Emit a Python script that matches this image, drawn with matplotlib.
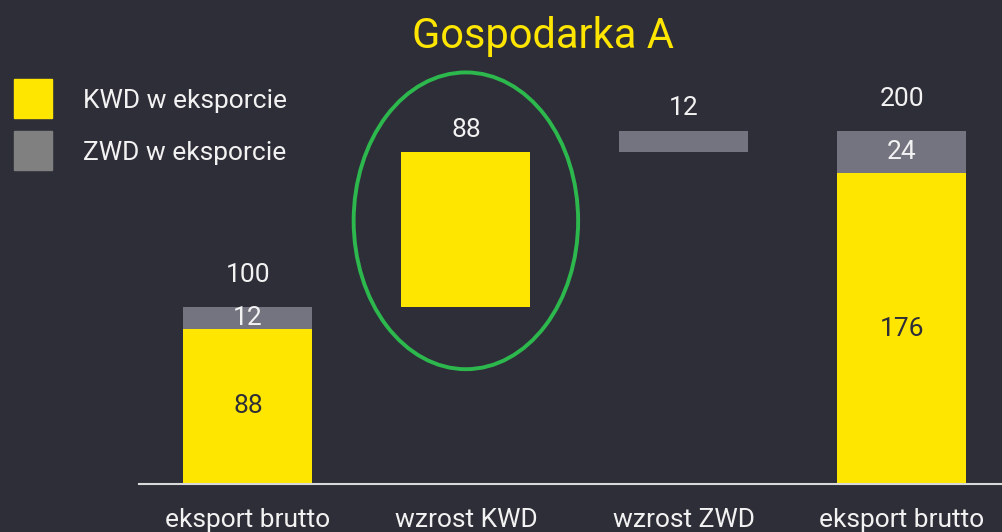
import numpy as np
import matplotlib.pyplot as plt
from matplotlib.patches import Ellipse, Rectangle

plt.rcParams['font.family'] = ['Roboto', 'DejaVu Sans']

# data
categories = ['eksport brutto', 'wzrost KWD', 'wzrost ZWD', 'eksport brutto']
kwd = np.array([88, 88, 0, 176])
zwd = np.array([12, 0, 12, 24])
kind = ['total', 'step', 'step', 'total']
legend_labels = ['KWD w eksporcie', 'ZWD w eksporcie']
title = 'Gospodarka A'

bg = '#2e2e38'
yellow = '#ffe600'
gray = '#747480'
legend_gray = '#808080'
white = '#f2f2f2'

fig = plt.figure(figsize=(10.02, 5.32), dpi=100)
fig.patch.set_facecolor(bg)
ax = fig.add_axes([139 / 1002, 48 / 532, 1 - 139 / 1002, 1 - 48 / 532])
ax.set_facecolor(bg)

x = np.arange(len(categories))
w = 0.592

# waterfall bottoms
kwd_bottom = np.zeros(len(x))
zwd_bottom = np.zeros(len(x))
running = 0
for i in range(len(x)):
    if kind[i] == 'total':
        kwd_bottom[i] = 0
        zwd_bottom[i] = kwd[i]
        running = kwd[i] + zwd[i]
    else:
        kwd_bottom[i] = running
        zwd_bottom[i] = running + kwd[i]
        running += kwd[i] + zwd[i]

ax.bar(x, kwd, w, bottom=kwd_bottom, color=yellow, zorder=2)
ax.bar(x, zwd, w, bottom=zwd_bottom, color=gray, zorder=2)

fs = 19
for i in range(len(x)):
    top = zwd_bottom[i] + zwd[i]
    if kind[i] == 'total':
        ax.annotate(str(kwd[i] + zwd[i]), (x[i], top), xytext=(0, 23),
                    textcoords='offset points', ha='center', va='center',
                    color=white, fontsize=fs)
        ax.text(x[i], kwd_bottom[i] + kwd[i] / 2, str(kwd[i]), ha='center',
                va='center', color=bg, fontsize=fs)
        ax.text(x[i], zwd_bottom[i] + zwd[i] / 2, str(zwd[i]), ha='center',
                va='center', color=white, fontsize=fs)
    else:
        val = kwd[i] + zwd[i]
        ax.annotate(str(val), (x[i], top), xytext=(0, 16),
                    textcoords='offset points', ha='center', va='center',
                    color=white, fontsize=fs)

# highlight ellipse around KWD growth
k = kind.index('step')
ax.add_patch(Ellipse((x[k], kwd_bottom[k] + kwd[k] / 2 + 5), 1.03, 168,
                     fill=False, edgecolor='#2db84d', lw=2.8, clip_on=False,
                     zorder=3))

ax.set_xlim(-0.5, 3.46)
ax.set_ylim(0, 274)
ax.set_xticks(x)
ax.set_xticklabels(categories, color=white, fontsize=fs)
ax.tick_params(axis='x', length=0, pad=17)
ax.set_yticks([])
for s in ['top', 'right', 'left']:
    ax.spines[s].set_visible(False)
ax.spines['bottom'].set_color('#d9d9d9')
ax.spines['bottom'].set_linewidth(1.5)

# legend
for j, (lab, c) in enumerate(zip(legend_labels, [yellow, legend_gray])):
    y0 = 1 - (118 + j * 52) / 532
    fig.patches.append(Rectangle((14 / 1002, y0), 38 / 1002, 39 / 532,
                                 transform=fig.transFigure, color=c))
    fig.text(83 / 1002, y0 + 17 / 532, lab, color=white, fontsize=fs,
             va='center', ha='left')

fig.text(543 / 1002, 1 - 48 / 532, title, color=yellow, fontsize=30,
         ha='center', va='baseline')

fig.savefig('out.png', dpi=100, facecolor=bg)
